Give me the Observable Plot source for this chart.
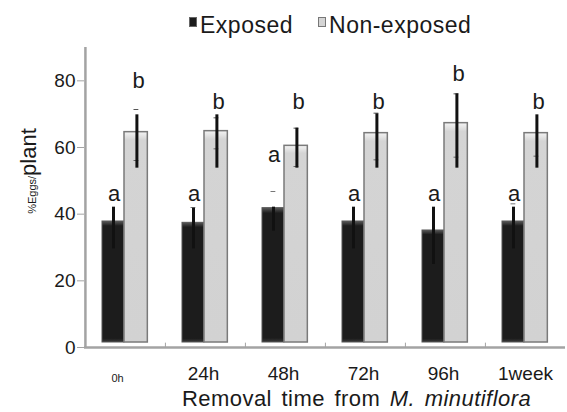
<!DOCTYPE html>
<html>
<head>
<meta charset="utf-8">
<script src="https://cdn.jsdelivr.net/npm/d3@7"></script>
<script src="https://cdn.jsdelivr.net/npm/@observablehq/plot@0.6"></script>
<style>
  body { margin: 0; background: #fff; font-family: "Liberation Sans", Arial, sans-serif; color: #1a1a1a; }
  #wrap { position: relative; width: 567px; height: 412px; overflow: hidden; }
  #legend { position: absolute; top: 6px; left: 189px; font-size: 23px; line-height: 26px; white-space: nowrap; letter-spacing: 0.5px; }
  #legend .item { display: inline-flex; align-items: center; margin-right: 25px; }
  #legend .sw { display: inline-block; width: 8px; height: 10px; margin-right: 3px; margin-top: -6px; box-sizing: border-box; }
  #ylabel { position: absolute; left: 30px; top: 171px; transform: translate(-50%, -50%) rotate(-90deg); white-space: nowrap; font-size: 22px; line-height: 22px; }
  #ylabel small { font-size: 11px; }
  #xtitle { position: absolute; left: 182px; top: 388px; font-size: 22px; line-height: 22px; white-space: nowrap; letter-spacing: 0.45px; word-spacing: 3px; }
</style>
</head>
<body>
<div id="wrap">
  <div id="chart"></div>
  <div id="legend"></div>
  <div id="ylabel"><small>%Eggs/</small>plant</div>
  <div id="xtitle">Removal time from <i>M. minutiflora</i></div>
</div>
<script>
// ---- data ----
const times = ["0h", "24h", "48h", "72h", "96h", "1week"];
const seriesNames = ["Exposed", "Non-exposed"];
const exposed      = [37.8, 37.4, 41.8, 37.8, 35.1, 37.8];
const nonExposed   = [64.6, 64.9, 60.5, 64.3, 67.3, 64.3];
const exposedLow   = [29.6, 29.6, 34.9, 29.6, 24.9, 29.6];
const exposedHigh  = [42.1, 41.8, 42.1, 42.1, 42.1, 42.1];
const nonLow       = [53.8, 53.8, 53.8, 53.8, 53.8, 53.8];
const nonHigh      = [69.8, 69.8, 65.8, 70.1, 76.1, 69.8];
const exposedCaps  = [null, 42.0, 46.8, null, null, 43.1];
const nonCapsHigh  = [71.4, 68.9, 65.8, 70.3, 76.1, null];
const nonCapsLow   = [56.1, 59.6, 54.3, 56.3, 57.1, 57.4];
const exposedLetters = ["a", "a", "a", "a", "a", "a"];
const nonLetters     = ["b", "b", "b", "b", "b", "b"];
const exposedLetterY = [44.1, 44.1, 55.6, 44.1, 44.1, 44.1];
const nonLetterY     = [77.8, 71.6, 71.6, 71.6, 80.1, 71.6];
const yTicks = [0, 20, 40, 60, 80];

// ---- tables ----
const expRows = times.map((t, i) => ({time: t, value: exposed[i], lo: exposedLow[i], hi: exposedHigh[i], cap: exposedCaps[i], letter: exposedLetters[i], ly: exposedLetterY[i]}));
const nonRows = times.map((t, i) => ({time: t, value: nonExposed[i], lo: nonLow[i], hi: nonHigh[i], capHi: nonCapsHigh[i], capLo: nonCapsLow[i], letter: nonLetters[i], ly: nonLetterY[i]}));

const W = 567, H = 412, mL = 84, mR = 2;
const bw = (W - mL - mR) / times.length;
const grey = "#a3a3a3";

const chart = Plot.plot({
  width: W, height: H,
  marginLeft: mL, marginRight: mR, marginTop: 47, marginBottom: 65,
  x: {domain: times, padding: 0, axis: null},
  y: {domain: [0, 90], axis: null},
  style: {fontFamily: "'Liberation Sans', Arial, sans-serif", background: "transparent", color: "#1a1a1a"},
  marks: [
    Plot.barY(expRows, {x: "time", y: "value", insetLeft: 17, insetRight: bw - 39, insetBottom: 5, fill: "url(#gDark)", stroke: "#555", strokeWidth: 1}),
    Plot.barY(nonRows, {x: "time", y: "value", insetLeft: 39, insetRight: bw - 62.5, insetBottom: 5, fill: "url(#gLight)", stroke: "#7a7a7a", strokeWidth: 1.5}),
    Plot.tickY(expRows.filter(d => d.cap != null), {x: "time", y: "cap", insetLeft: 25.5, insetRight: bw - 30.5, stroke: "#777", strokeWidth: 1}),
    Plot.tickY(nonRows.filter(d => d.capHi != null), {x: "time", y: "capHi", insetLeft: 48.5, insetRight: bw - 53.5, stroke: "#555", strokeWidth: 1}),
    Plot.tickY(nonRows.filter(d => d.capLo != null), {x: "time", y: "capLo", insetLeft: 48.5, insetRight: bw - 53.5, stroke: "#666", strokeWidth: 1}),
    Plot.ruleX(expRows, {x: "time", y1: "lo", y2: "hi", dx: -12, stroke: "#111", strokeWidth: 3}),
    Plot.ruleX(nonRows, {x: "time", y1: "lo", y2: "hi", dx: 11.4, stroke: "#111", strokeWidth: 3}),
    Plot.text(expRows, {x: "time", y: "ly", text: "letter", dx: -11.5, fontSize: 22, lineAnchor: "bottom", fill: "#1a1a1a"}),
    Plot.text(nonRows, {x: "time", y: "ly", text: "letter", dx: 13, fontSize: 22, lineAnchor: "bottom", fill: "#1a1a1a"}),
    // axes lines
    Plot.ruleY([0], {stroke: grey, strokeWidth: 2.5}),
    Plot.ruleX([times[0]], {dx: -bw / 2, stroke: grey, strokeWidth: 2.5}),
    Plot.ruleX(times.slice(1), {dx: -bw / 2, y1: 0, y2: 1.3, stroke: grey, strokeWidth: 1}),
    Plot.axisY({ticks: yTicks, tickSize: 7, tickPadding: 2, fontSize: 19, stroke: grey, fill: "#1a1a1a", label: null}),
    // x tick labels
    Plot.text(times.slice(1, 5), {x: d => d, frameAnchor: "bottom", dy: 32, dx: -2, lineAnchor: "bottom", fontSize: 19, fill: "#1a1a1a"}),
    Plot.text(times.slice(0, 1), {x: d => d, frameAnchor: "bottom", dy: 34, dx: -8, lineAnchor: "bottom", fontSize: 11, fill: "#1a1a1a"}),
    Plot.text(times.slice(5), {x: d => d, frameAnchor: "bottom", dy: 32, dx: 0, lineAnchor: "bottom", fontSize: 19, fill: "#1a1a1a"})
  ]
});

// gradients for the 3-D looking bars
const defs = d3.select(chart).insert("defs", ":first-child");
const gd = defs.append("linearGradient").attr("id", "gDark").attr("x1", 0).attr("y1", 0).attr("x2", 0).attr("y2", 1);
gd.append("stop").attr("offset", "0%").attr("stop-color", "#5a5a5a");
gd.append("stop").attr("offset", "4%").attr("stop-color", "#1c1c1c");
gd.append("stop").attr("offset", "97%").attr("stop-color", "#1c1c1c");
gd.append("stop").attr("offset", "100%").attr("stop-color", "#3a3a3a");
const gl = defs.append("linearGradient").attr("id", "gLight").attr("x1", 0).attr("y1", 0).attr("x2", 0).attr("y2", 1);
gl.append("stop").attr("offset", "0%").attr("stop-color", "#f4f4f4");
gl.append("stop").attr("offset", "4%").attr("stop-color", "#d4d4d4");
gl.append("stop").attr("offset", "100%").attr("stop-color", "#d2d2d2");

document.getElementById("chart").appendChild(chart);

// legend
const legendFills = {"Exposed": ["#1c1c1c", "#666"], "Non-exposed": ["#d4d4d4", "#777"]};
const legend = document.getElementById("legend");
seriesNames.forEach(name => {
  const item = document.createElement("span");
  item.className = "item";
  const sw = document.createElement("span");
  sw.className = "sw";
  sw.style.background = legendFills[name][0];
  sw.style.border = "1px solid " + legendFills[name][1];
  item.appendChild(sw);
  item.appendChild(document.createTextNode(name));
  legend.appendChild(item);
});
</script>
</body>
</html>
